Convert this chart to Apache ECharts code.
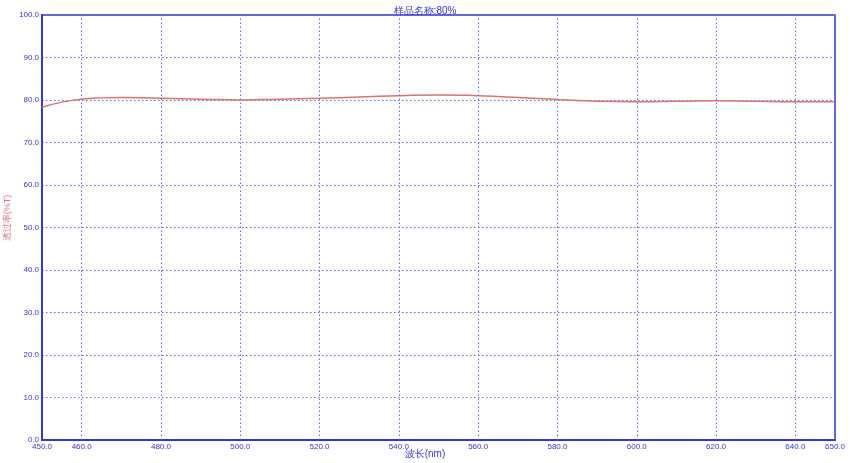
<!DOCTYPE html>
<html>
<head>
<meta charset="UTF-8">
<script src="https://cdn.jsdelivr.net/npm/echarts@6/dist/echarts.min.js"></script>
<style>html,body{margin:0;background:#fff}#chart{width:850px;height:463px}</style>
</head>
<body>
<div id="chart"></div>
<script>
// 数据
const waveLengths = [450, 455, 460, 465, 470, 480, 490, 500, 510, 520, 530, 540, 550, 560, 570, 580, 590, 600, 610, 620, 630, 640, 650];
const transmit   = [78.3, 79.5, 80.2, 80.5, 80.6, 80.4, 80.2, 80.0, 80.2, 80.4, 80.7, 81.0, 81.2, 81.0, 80.6, 80.1, 79.7, 79.6, 79.7, 79.8, 79.7, 79.6, 79.6];
const xLabels = [450, 460, 480, 500, 520, 540, 560, 580, 600, 620, 640, 650];
const xGrid = [460, 480, 500, 520, 540, 560, 580, 600, 620, 640];

const blue = '#3535d0';
const chart = echarts.init(document.getElementById('chart'));
chart.setOption({
    animation: false,
    title: {text: '样品名称:80%', left: 'center', top: 1, textStyle: {fontSize: 10, fontWeight: 'normal', color: blue}},
    graphic: [
        {type: 'text', left: 'center', top: 449, style: {text: '波长(nm)', fill: blue, fontSize: 10}},
        {type: 'text', x: 8, y: 218, rotation: Math.PI / 2, style: {text: '透过率(%T)', fill: '#e07080', fontSize: 9, align: 'center', verticalAlign: 'middle'}}
    ],
    grid: {left: 42, right: 15, top: 15, bottom: 23, outerBoundsMode: 'none', containLabel: false, show: true, borderColor: blue, borderWidth: 1.5},
    xAxis: {
        type: 'value', min: 450, max: 650,
        axisLine: {lineStyle: {color: blue, width: 2}},
        axisTick: {show: false},
        splitLine: {show: false},
        axisLabel: {customValues: xLabels, color: blue, fontSize: 8, margin: 3, formatter: v => v.toFixed(1)}
    },
    yAxis: {
        type: 'value', min: 0, max: 100, interval: 10,
        axisLine: {show: true, lineStyle: {color: blue, width: 2}},
        axisTick: {show: false},
        splitLine: {lineStyle: {color: '#6a6ae0', type: [1.5, 2.5], width: 1}},
        axisLabel: {color: blue, fontSize: 8, margin: 3, formatter: v => v.toFixed(1)}
    },
    series: [{
        type: 'line', smooth: true, symbol: 'none',
        data: waveLengths.map((w, i) => [w, transmit[i]]),
        lineStyle: {color: '#e07070', width: 1.5},
        markLine: {
            silent: true, symbol: 'none', label: {show: false},
            lineStyle: {color: '#6a6ae0', type: [1.5, 2.5], width: 1},
            data: xGrid.map(v => ({xAxis: v}))
        }
    }]
});
</script>
</body>
</html>
